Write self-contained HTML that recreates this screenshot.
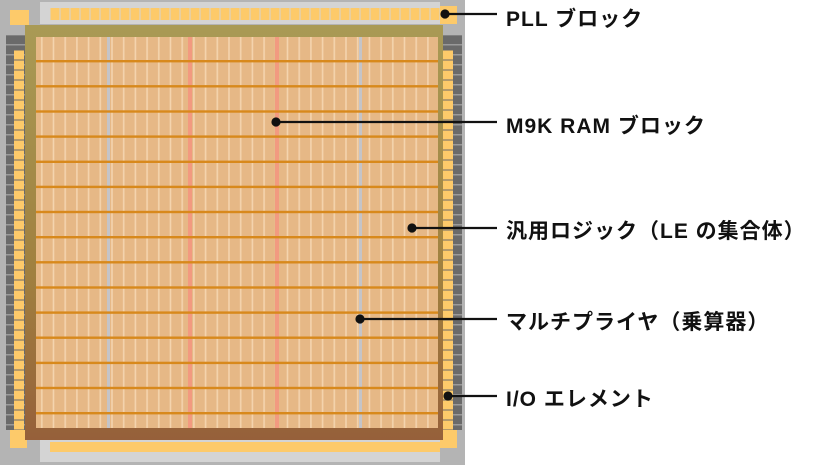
<!DOCTYPE html>
<html><head><meta charset="utf-8"><style>
html,body{margin:0;padding:0;background:#fff;width:818px;height:465px;overflow:hidden}
.t{position:absolute;left:506px;font:bold 21px "Liberation Sans","Noto Sans CJK JP",sans-serif;color:#111;white-space:nowrap;letter-spacing:1px}
</style></head><body>
<svg width="818" height="465" style="position:absolute;left:0;top:0">
<defs>
<pattern id="cells" x="36" y="37" width="11.7" height="25.14" patternUnits="userSpaceOnUse">
<rect width="11.7" height="25.14" fill="#e6b886"/>
<rect x="5" width="1.6" height="25.14" fill="#f4d4ae"/>
</pattern>
<pattern id="hp" x="50" y="0" width="10" height="20" patternUnits="userSpaceOnUse">
<rect x="0.5" y="8" width="9" height="14" fill="#fdca6a"/>
</pattern>
<pattern id="vp" x="0" y="50" width="20" height="10" patternUnits="userSpaceOnUse">
<rect x="0" y="0.5" width="20" height="9" fill="#fdca6a"/>
</pattern>
<pattern id="sd" x="0" y="0" width="20" height="10" patternUnits="userSpaceOnUse">
<rect width="20" height="10" fill="#6a6a6a"/><rect y="4" width="20" height="1.5" fill="#9a9a9a"/>
</pattern>
<linearGradient id="bd" x1="0" y1="0" x2="0" y2="1">
<stop offset="0" stop-color="#a99a55"/><stop offset="0.6" stop-color="#a0803f"/><stop offset="1" stop-color="#96603a"/>
</linearGradient>
</defs>
<rect x="0" y="0" width="465" height="465" fill="#b4b4b4"/>
<rect x="6" y="35" width="20" height="395" fill="url(#sd)"/>
<rect x="442" y="35" width="20" height="395" fill="url(#sd)"/>
<rect x="40" y="2" width="400" height="22" fill="#d4d4d4"/>
<rect x="40" y="440" width="400" height="22" fill="#d4d4d4"/>
<rect x="50" y="0" width="390" height="22" fill="url(#hp)"/>
<rect x="50" y="442" width="390" height="10" fill="#fdca6a"/>
<rect x="14" y="50" width="10" height="380" fill="url(#vp)"/>
<rect x="443" y="50" width="10" height="380" fill="url(#vp)"/>
<rect x="10" y="10" width="19" height="15" fill="#fdca6a"/>
<rect x="440" y="6" width="17" height="18" fill="#fdca6a"/>
<rect x="10" y="430" width="17" height="18" fill="#fdca6a"/>
<rect x="440" y="430" width="17" height="18" fill="#fdca6a"/>
<rect x="25" y="25" width="418" height="415" fill="url(#bd)"/>
<rect x="36" y="37" width="402" height="391" fill="url(#cells)"/>
<rect x="107" y="37" width="3" height="391" fill="#c4c4c8"/>
<rect x="359" y="37" width="3" height="391" fill="#c4c4c8"/>
<rect x="188" y="37" width="4" height="391" fill="#f29a80"/>
<rect x="275" y="37" width="4" height="391" fill="#f29a80"/>
<g fill="#d8891c">
<rect x="36" y="60" width="402" height="2.4"/><rect x="36" y="85.1" width="402" height="2.4"/><rect x="36" y="110.3" width="402" height="2.4"/><rect x="36" y="135.4" width="402" height="2.4"/><rect x="36" y="160.6" width="402" height="2.4"/><rect x="36" y="185.7" width="402" height="2.4"/><rect x="36" y="210.8" width="402" height="2.4"/><rect x="36" y="236" width="402" height="2.4"/><rect x="36" y="261.1" width="402" height="2.4"/><rect x="36" y="286.3" width="402" height="2.4"/><rect x="36" y="311.4" width="402" height="2.4"/><rect x="36" y="336.5" width="402" height="2.4"/><rect x="36" y="361.7" width="402" height="2.4"/><rect x="36" y="386.8" width="402" height="2.4"/><rect x="36" y="412" width="402" height="2.4"/>
</g>
<g stroke="#111" stroke-width="2.2" fill="#111">
<line x1="445" y1="14" x2="497" y2="14"/><circle cx="445" cy="14" r="3.5"/>
<line x1="276" y1="122" x2="497" y2="122"/><circle cx="276" cy="122" r="3.5"/>
<line x1="412" y1="228" x2="497" y2="228"/><circle cx="412" cy="228" r="3.5"/>
<line x1="360" y1="319" x2="497" y2="319"/><circle cx="360" cy="319" r="3.5"/>
<line x1="448" y1="396" x2="497" y2="396"/><circle cx="448" cy="396" r="3.5"/>
</g>
</svg>
<div class="t" style="top:3px">PLL ブロック</div>
<div class="t" style="top:110px">M9K RAM ブロック</div>
<div class="t" style="top:215px">汎用ロジック（LE の集合体）</div>
<div class="t" style="top:306px">マルチプライヤ（乗算器）</div>
<div class="t" style="top:383px">I/O エレメント</div>
</body></html>
